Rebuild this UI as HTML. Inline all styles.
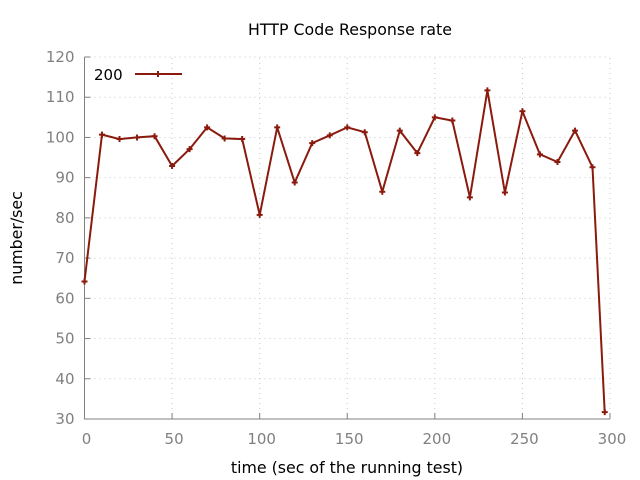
<!DOCTYPE html>
<html><head><meta charset="utf-8"><style>
body{margin:0;background:#fff}
svg{display:block;font-family:"DejaVu Sans","Liberation Sans",sans-serif}
</style></head><body>
<svg id="chart" width="640" height="480" viewBox="0 0 640 480">
<text x="350" y="35" font-size="15.8" text-anchor="middle" fill="#000">HTTP Code Response rate</text>
<text transform="translate(22,238) rotate(-90)" font-size="15.8" text-anchor="middle" fill="#000">number/sec</text>
<text x="347" y="473" font-size="15.8" text-anchor="middle" fill="#000">time (sec of the running test)</text>
<g id="grid"></g>
<g id="axes"></g>
<g id="series"></g>
<g>
<text x="94" y="80" font-size="15" fill="#000">200</text>
<line x1="135" y1="74" x2="182" y2="74" stroke="#8b1a0e" stroke-width="2"/>
<path d="M155 74h6M158 71v6" stroke="#8b1a0e" stroke-width="2"/>
</g>
</svg>
<script>
const times=[0,10,20,30,40,50,60,70,80,90,100,110,120,130,140,150,160,170,180,190,200,210,220,230,240,250,260,270,280,290,297];
const values=[64.2,100.7,99.6,100,100.3,92.9,97.1,102.5,99.75,99.6,80.75,102.5,88.8,98.6,100.5,102.5,101.3,86.5,101.7,96.1,105,104.2,85.1,111.7,86.3,106.5,95.8,93.9,101.7,92.6,31.7];
const xTicks=[0,50,100,150,200,250,300];
const yTicks=[30,40,50,60,70,80,90,100,110,120];
const X0=84.5,X1=610,Y0=419,Y1=57;
const xs=t=>X0+(t-0)/300*(X1-X0);
const ys=v=>Y0-(v-30)/90*(Y0-Y1);
const NS="http://www.w3.org/2000/svg";
function mk(tag,attrs,parent){const e=document.createElementNS(NS,tag);for(const k in attrs)e.setAttribute(k,attrs[k]);parent.appendChild(e);return e;}
const grid=document.getElementById('grid'),axes=document.getElementById('axes'),ser=document.getElementById('series');
xTicks.forEach(t=>{
 const x=xs(t);
 if(t>0){const g=mk('line',{x1:x,y1:Y0,x2:x,y2:Y1,stroke:'#c8c8c8','stroke-dasharray':'1,4'},grid);
 
 }
 const tk=mk('line',{x1:x,y1:Y0,x2:x,y2:Y0-6,stroke:'#808080'},axes);
 
 
 const lb=mk('text',{x:x+2,y:Y0+25,'font-size':15,'text-anchor':'middle',fill:'#808080'},axes);
 lb.textContent=t;
 
 
});
yTicks.forEach(v=>{
 const y=ys(v);
 if(v>30){const g=mk('line',{x1:X0,y1:y,x2:X1,y2:y,stroke:'#c8c8c8','stroke-dasharray':'1,4'},grid);
 
 }
 const tk=mk('line',{x1:X0,y1:y,x2:X0+6,y2:y,stroke:'#808080'},axes);
 
 
 const lb=mk('text',{x:X0-10,y:y+5,'font-size':15,'text-anchor':'end',fill:'#808080'},axes);
 lb.textContent=v;
 
 
});
const ax=mk('path',{d:`M${X0} ${Y1}V${Y0}H${X1}`,stroke:'#808080',fill:'none','stroke-width':1},axes);


const pts=times.map((t,i)=>xs(t).toFixed(1)+','+ys(values[i]).toFixed(1)).join(' ');
const pl=mk('polyline',{points:pts,fill:'none',stroke:'#8b1a0e','stroke-width':2,'stroke-linejoin':'miter'},ser);


times.forEach((t,i)=>{
 const x=xs(t),y=ys(values[i]);
 const m=mk('path',{d:`M${x-3} ${y}h6M${x} ${y-3}v6`,stroke:'#8b1a0e','stroke-width':2},ser);
 
 
});
</script>
</body></html>
